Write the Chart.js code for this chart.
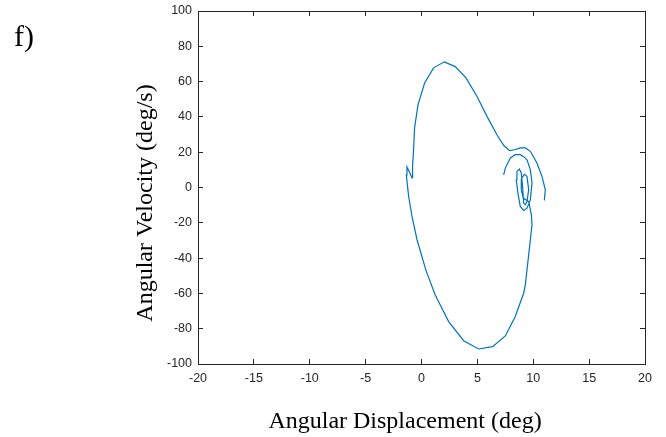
<!DOCTYPE html>
<html>
<head>
<meta charset="utf-8">
<script src="https://cdn.jsdelivr.net/npm/chart.js@4.4.1/dist/chart.umd.min.js"></script>
<style>
  html, body { margin: 0; padding: 0; background: #fff; }
  #wrap { width: 666px; height: 437px; position: relative; }
</style>
</head>
<body>
<div id="wrap"><canvas id="grafico"></canvas></div>
<script>
"use strict";

/* ===== DADOS ===== */
// angular displacement (deg), in time order
const desloc = [
    7.35, 7.5, 7.95, 8.39, 8.84, 9.14, 9.44, 9.74, 9.89, 9.74, 9.44, 9.14, 8.84, 8.63, 8.48,
    8.54, 8.75, 8.93, 9.05, 9.14, 9.29, 9.44, 9.59, 9.44, 9.2, 8.95, 8.93, 9.1, 9.6, 9.83,
    9.89, 9.59, 9.29, 9.14, 8.39, 7.5, 6.36, 5.11, 3.77, 2.43, 1.23, 0.49, 0.34, -0.4,
    -0.85, -1.15, -1.36, -1.3, -1.1, -0.85, -0.8, -0.71, -0.62, -0.31, 0.28, 1.08, 2.04,
    3.02, 3.98, 4.96, 5.86, 6.75, 7.35, 7.88, 8.33, 8.84, 9.29, 9.74, 10.33, 10.78, 11.08, 10.99
];
// angular velocity (deg/s)
const veloc = [
    7.2, 11, 16.7, 18.6, 18.6, 17.5, 15.7, 10.1, 2.5, -7, -11.7, -13, -10.7, -3.2, 4.4,
    9.1, 10.5, 8.2, 0.6, -8.8, -9.8, -7.9, -1.3, 6.3, 7.5, 5, -1.3, -6, -8, -15.5,
    -21.1, -38.2, -55.2, -59.9, -73.1, -84.1, -90.2, -91.5, -86.8, -76.0, -60.9, -48.5, -45.7, -29.6,
    -16.4, -5.1, 7.2, 11.6, 9, 5.4, 12, 21.4, 33.7, 47, 59.2, 67.8, 71.2,
    68.5, 62.1, 51.7, 40.3, 29.9, 23.9, 20.9, 21.4, 22.4, 22.4, 20.5, 13.9, 6.3, -1.3, -7.3
];
const xLimites = [-20, 20];
const yLimites = [-100, 100];
const xPasso = 5;
const yPasso = 20;

const rotuloPainel = "f)";
const tituloX = "Angular Displacement (deg)";
const tituloY = "Angular Velocity (deg/s)";

/* ===== ESTILO ===== */
const corEixo = "#262626";
const fonteTicks = { family: "'Liberation Sans', Arial, sans-serif", size: 12.5 };
const serif = "'Liberation Serif', 'Times New Roman', serif";

const pontos = desloc.map((x, i) => ({ x: x, y: veloc[i] }));

function gradeEixo() {
    return { drawOnChartArea: false, drawTicks: true, tickLength: -5, color: corEixo, lineWidth: 1 };
}

// fixed box size, and no extra room for overflowing tick labels
function fixar(tam, lado) {
    return s => {
        s[lado] = tam;
        s.paddingTop = 0; s.paddingBottom = 0;
        s.paddingLeft = 0; s.paddingRight = 0;
    };
}

// texts outside the axes (panel label + axis titles)
const textos = {
    id: "textos",
    afterDraw(chart) {
        const ctx = chart.ctx;
        ctx.save();
        ctx.fillStyle = "#000";

        ctx.font = "30px " + serif;
        ctx.textAlign = "left";
        ctx.textBaseline = "alphabetic";
        ctx.fillText(rotuloPainel, 14, 46);

        ctx.font = "24px " + serif;
        ctx.textAlign = "center";
        ctx.textBaseline = "middle";
        ctx.fillText(tituloX, 405, 422);

        ctx.translate(146, 203);
        ctx.rotate(-Math.PI / 2);
        ctx.fillText(tituloY, 0, 0);
        ctx.restore();
    }
};

const canvas = document.getElementById("grafico");
new Chart(canvas, {
    type: "scatter",
    data: {
        datasets: [{
            data: pontos,
            showLine: true,
            borderColor: "#0072BD",
            borderWidth: 1.2,
            pointRadius: 0,
            tension: 0,
            fill: false
        }]
    },
    options: {
        responsive: true,
        maintainAspectRatio: false,
        animation: false,
        layout: { padding: 0 },
        plugins: { legend: { display: false }, tooltip: { enabled: false } },
        scales: {
            x: {
                type: "linear", position: "bottom",
                min: xLimites[0], max: xLimites[1],
                ticks: { stepSize: xPasso, color: corEixo, font: fonteTicks, padding: 12, maxRotation: 0 },
                grid: gradeEixo(),
                border: { color: corEixo, width: 1 },
                afterFit: fixar(73, "height")
            },
            y: {
                type: "linear", position: "left",
                min: yLimites[0], max: yLimites[1],
                ticks: { stepSize: yPasso, color: corEixo, font: fonteTicks, padding: 11 },
                grid: gradeEixo(),
                border: { color: corEixo, width: 1 },
                afterFit: fixar(198, "width")
            },
            xTopo: {
                type: "linear", position: "top",
                min: xLimites[0], max: xLimites[1],
                ticks: { stepSize: xPasso, display: false },
                grid: gradeEixo(),
                border: { color: corEixo, width: 1 },
                afterFit: fixar(11, "height")
            },
            yDir: {
                type: "linear", position: "right",
                min: yLimites[0], max: yLimites[1],
                ticks: { stepSize: yPasso, display: false },
                grid: gradeEixo(),
                border: { color: corEixo, width: 1 },
                afterFit: fixar(21, "width")
            }
        }
    },
    plugins: [textos]
});
</script>
</body>
</html>
